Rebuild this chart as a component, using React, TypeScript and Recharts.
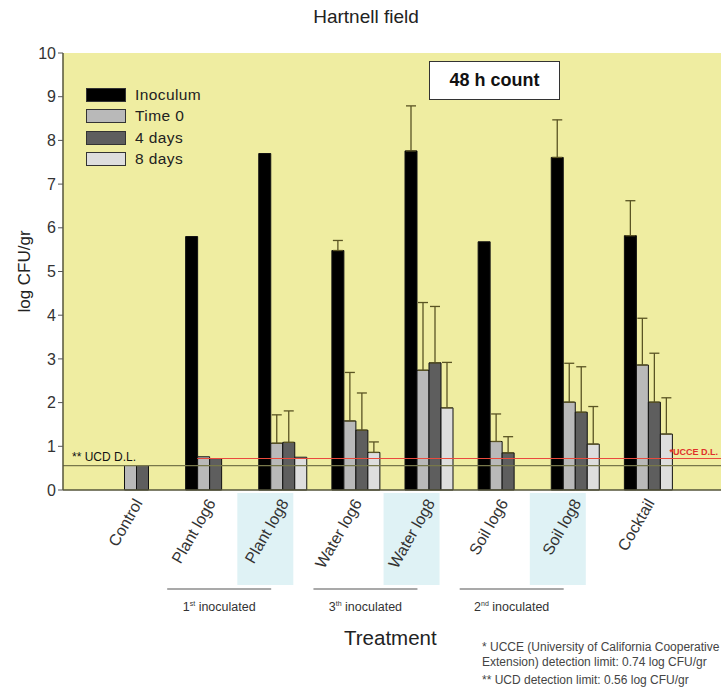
import {
  Bar,
  BarChart,
  CartesianGrid,
  ErrorBar,
  Legend,
  ReferenceLine,
  XAxis,
  YAxis,
} from "recharts";

const categories = [
  "Control",
  "Plant log6",
  "Plant log8",
  "Water log6",
  "Water log8",
  "Soil log6",
  "Soil log8",
  "Cocktail",
];

// log CFU/gr; null = no bar / no error bar
const inoculum = [null, 5.8, 7.7, 5.48, 7.76, 5.68, 7.61, 5.82];
const inoculumErr = [null, null, null, 0.23, 1.03, null, 0.86, 0.8];
const time0 = [0.56, 0.76, 1.07, 1.58, 2.74, 1.11, 2.01, 2.86];
const time0Err = [null, null, 0.65, 1.11, 1.55, 0.63, 0.89, 1.07];
const days4 = [0.56, 0.72, 1.09, 1.37, 2.91, 0.85, 1.78, 2.01];
const days4Err = [null, null, 0.72, 0.85, 1.29, 0.37, 1.04, 1.12];
const days8 = [null, null, 0.75, 0.86, 1.88, null, 1.05, 1.28];
const days8Err = [null, null, null, 0.24, 1.04, null, 0.86, 0.83];

const yTicks = [0, 1, 2, 3, 4, 5, 6, 7, 8, 9, 10];
const ucdLimit = 0.56;
const ucceLimit = 0.74;

const inoculatedGroups: Record<string, [string, string]> = {
  "Plant log6": ["1", "st"],
  "Water log6": ["3", "th"],
  "Soil log6": ["2", "nd"],
};

const upOnly = (e: number | null) => (e == null ? null : [0, e]);

const data = categories.map((name, i) => ({
  name,
  inoculum: inoculum[i],
  inoculumErr: upOnly(inoculumErr[i]),
  time0: time0[i],
  time0Err: upOnly(time0Err[i]),
  days4: days4[i],
  days4Err: upOnly(days4Err[i]),
  days8: days8[i],
  days8Err: upOnly(days8Err[i]),
}));

const series = [
  { key: "inoculum", name: "Inoculum", color: "#000000" },
  { key: "time0", name: "Time 0", color: "#b9b9b9" },
  { key: "days4", name: "4 days", color: "#5e5e5e" },
  { key: "days8", name: "8 days", color: "#dedede" },
];

const FONT = '"Liberation Sans", Arial, sans-serif';
const errColor = "#5a5424";

function XTick(props: any) {
  const { x, y, payload } = props;
  const label: string = payload.value;
  const group = inoculatedGroups[label];
  return (
    <g transform={`translate(${x},${y})`}>
      {label.endsWith("log8") && (
        <rect x={-45} y={-5} width={56} height={92} fill="#dff2f5" />
      )}
      <text
        transform="translate(7,5) rotate(-60)"
        textAnchor="end"
        fontSize={16}
        fontFamily={FONT}
        fill="#333"
      >
        {label}
      </text>
      {group && (
        <g>
          <line x1={-42} x2={62} y1={91} y2={91} stroke="#a9a9a9" strokeWidth={2} />
          <text x={10} y={113} textAnchor="middle" fontSize={12.5} fontFamily={FONT} fill="#333">
            {group[0]}
            <tspan fontSize={7} dy={-5}>
              {group[1]}
            </tspan>
            <tspan dy={5}> inoculated</tspan>
          </text>
        </g>
      )}
    </g>
  );
}

function LegendBox() {
  return (
    <div style={{ fontFamily: FONT, fontSize: 15.5, color: "#222", letterSpacing: 0.4 }}>
      {series.map((s) => (
        <div key={s.key} style={{ display: "flex", alignItems: "center", height: 21.5 }}>
          <div
            style={{
              width: 38,
              height: 12,
              background: s.color,
              border: "1.5px solid #333",
              marginRight: 9,
            }}
          />
          <span>{s.name}</span>
        </div>
      ))}
    </div>
  );
}

export default function App() {
  return (
    <div style={{ position: "absolute", left: 0, top: 0, width: 728, height: 695, background: "#fff", fontFamily: FONT }}>
      <div style={{ position: "absolute", left: 0, width: 732, top: 6, textAlign: "center", fontSize: 19, color: "#222" }}>
        Hartnell field
      </div>

      <BarChart
        width={728}
        height={695}
        data={data}
        margin={{ top: 53, right: 7, bottom: 65, left: 23 }}
        barGap={0}
      >
        <CartesianGrid fill="#efeda1" horizontal={false} vertical={false} />
        <XAxis
          dataKey="name"
          interval={0}
          padding={{ left: 36.5, right: 36.5 }}
          height={140}
          tickLine={false}
          axisLine={{ stroke: "#55553a", strokeWidth: 1.5 }}
          tick={<XTick />}
        />
        <XAxis xAxisId="top" orientation="top" dataKey="name" height={0} tick={false} tickLine={false} axisLine={{ stroke: "#55553a", strokeWidth: 1.5 }} />
        <YAxis
          domain={[0, 10]}
          ticks={yTicks}
          interval={0}
          width={40}
          tickSize={5}
          tick={{ fontSize: 16, fill: "#333", fontFamily: FONT }}
          tickLine={{ stroke: "#555" }}
          axisLine={{ stroke: "#55553a", strokeWidth: 1.5 }}
          label={{
            value: "log CFU/gr",
            angle: -90,
            position: "insideLeft",
            offset: 0,
            dx: 1,
            style: { fontSize: 17, fill: "#222", fontFamily: FONT, textAnchor: "middle" },
          }}
        />
        <YAxis yAxisId="right" orientation="right" width={0} domain={[0, 10]} tick={false} tickLine={false} axisLine={{ stroke: "#55553a", strokeWidth: 1.5 }} />

        <ReferenceLine
          y={ucdLimit}
          stroke="#77774a"
          strokeWidth={1.2}
          label={(p: any) => (
            <text x={p.viewBox.x + 9} y={p.viewBox.y - 5} fontSize={12} fontFamily={FONT} fill="#111">
              ** UCD D.L.
            </text>
          )}
        />
        <ReferenceLine
          y={ucceLimit}
          stroke="none"
          label={(p: any) => {
            const ly = Math.round(p.viewBox.y) + 0.5;
            return (
              <g>
                <line
                  x1={p.viewBox.x + p.viewBox.width * 0.204}
                  x2={p.viewBox.x + p.viewBox.width}
                  y1={ly}
                  y2={ly}
                  stroke="#ea4a3e"
                  strokeWidth={1}
                />
                <text
                  x={p.viewBox.x + p.viewBox.width - 3}
                  y={ly - 4}
                  textAnchor="end"
                  fontSize={9}
                  fontWeight="bold"
                  fontFamily={FONT}
                  fill="#e0302a"
                >
                  *UCCE D.L.
                </text>
              </g>
            );
          }}
        />

        {series.map((s) => (
          <Bar
            key={s.key}
            dataKey={s.key}
            name={s.name}
            fill={s.color}
            stroke="#111"
            strokeWidth={1}
            barSize={12}
            isAnimationActive={false}
          >
            <ErrorBar dataKey={`${s.key}Err`} direction="y" width={5} stroke={errColor} strokeWidth={1.3} />
          </Bar>
        ))}

        <Legend
          layout="horizontal"
          verticalAlign="middle"
          align="center"
          content={() => <LegendBox />}
          wrapperStyle={{ left: 86, top: 84, width: 160, height: 90 }}
        />
      </BarChart>

      <div
        style={{
          position: "absolute",
          left: 429,
          top: 61,
          width: 129,
          height: 37,
          border: "1.5px solid #333",
          background: "#fff",
          fontWeight: "bold",
          fontSize: 18,
          display: "flex",
          alignItems: "center",
          justifyContent: "center",
          color: "#111",
        }}
      >
        48 h count
      </div>

      <div style={{ position: "absolute", left: 344, top: 626, fontSize: 20.5, color: "#222" }}>Treatment</div>

      <div style={{ position: "absolute", left: 482, top: 640, fontSize: 12, color: "#444", lineHeight: "15px" }}>
        <div>* UCCE (University of California Cooperative</div>
        <div>Extension) detection limit: 0.74 log CFU/gr</div>
        <div style={{ marginTop: 3 }}>** UCD detection limit: 0.56 log CFU/gr</div>
      </div>
    </div>
  );
}
